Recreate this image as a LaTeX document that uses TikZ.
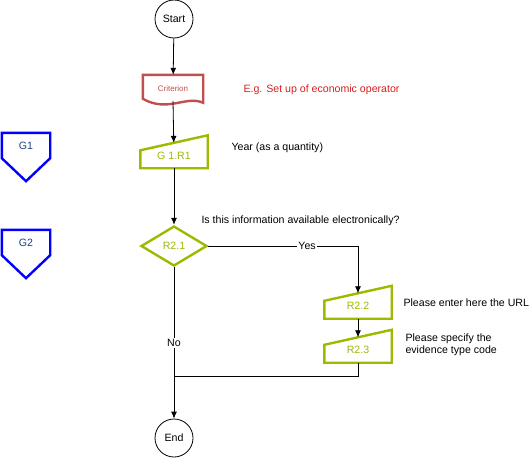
\documentclass[tikz,border=0pt]{standalone}
\usepackage{fontspec}
\setmainfont{Liberation Sans}
\usetikzlibrary{shapes.geometric, arrows.meta}
\definecolor{critred}{HTML}{C0504D}
\definecolor{textred}{HTML}{D42020}
\definecolor{reqgreen}{HTML}{9BBB00}
\definecolor{grpblue}{HTML}{0000FF}
\definecolor{grptext}{HTML}{1F3F7F}

\begin{document}
\begin{tikzpicture}[x=1pt, y=-1pt, >={Latex[length=7pt, width=6pt]},
  every node/.style={font=\fontsize{10.6}{12.5}\selectfont},
  term/.style={draw, circle, minimum size=38pt, inner sep=0pt, line width=0.8pt},
  reqbox/.style={minimum width=67pt, minimum height=25pt, inner sep=0pt, text=reqgreen,
    append after command={\pgfextra{\draw[reqgreen, line width=2.4pt, line join=miter]
      (\tikzlastnode.south west) -- (\tikzlastnode.south east)
      -- ([yshift=7.5pt]\tikzlastnode.north east)
      -- ([yshift=-7.5pt]\tikzlastnode.north west) -- cycle;}}},
  grpbox/.style={minimum width=48pt, minimum height=25pt, inner sep=0pt, text=grptext,
    append after command={\pgfextra{\draw[grpblue, line width=2.4pt, line join=miter]
      (\tikzlastnode.north west) -- (\tikzlastnode.north east)
      -- (\tikzlastnode.south east) -- ([yshift=-23pt]\tikzlastnode.south)
      -- (\tikzlastnode.south west) -- cycle;}}},
  flow/.style={->, line width=0.8pt}]
\useasboundingbox (0,0) rectangle (529,458);

% groups
\node[grpbox] (G1) at (26,145.5) {G1};
\node[grpbox] (G2) at (26,242.5) {G2};

% main flow
\node[term] (Start) at (174,19) {Start};
\node[minimum width=60pt, minimum height=27pt, inner sep=0pt, text=critred,
  font=\fontsize{8}{9}\selectfont] (Crit) at (173,88.5) {Criterion};
\draw[critred, line width=2.4pt, line join=miter] (Crit.north west) -- (Crit.north east)
  -- ([yshift=-28pt]Crit.north east) .. controls (186,95) and (168,113) .. ([yshift=-24pt]Crit.north west) -- cycle;
\node[reqbox] (G1R1) at (174,155.5) {G 1.R1};
\node[draw=reqgreen, line width=2.4pt, diamond, minimum width=66pt, minimum height=40pt,
  inner sep=0pt, text=reqgreen] (R21) at (174,246) {R2.1};
\node[reqbox] (R22) at (358,306) {R2.2};
\node[reqbox] (R23) at (358,350) {R2.3};
\node[term] (End) at (174,438) {End};
\coordinate (Join) at (174,376);

% texts
\node[anchor=west, text=textred] (CritText) at (240,90) {E.g. Set up of economic operator};
\node[anchor=west] (YearText) at (228,148) {Year (as a quantity)};
\node[anchor=west] (QText) at (198,221) {Is this information available electronically?};
\node[anchor=west] (UrlText) at (400,303) {Please enter here the URL};
\node[anchor=west, align=left] (CodeText) at (402,345) {Please specify the\\evidence type code};

% connectors
\draw[flow] (Start) -- (Crit);
\draw[flow] (Crit.south |- 0,101) -- (G1R1);
\draw[flow] (G1R1) -- (R21);
\draw[flow] (R21.east) -| node[pos=0.33, fill=white, inner sep=1pt] {Yes} (R22.north);
\draw[flow] (R22) -- (R23);
\draw[line width=0.8pt] (R23.south) |- (Join);
\draw[flow] (R21.south) -- node[midway, fill=white, inner sep=1pt] {No} (End);
\end{tikzpicture}
\end{document}
